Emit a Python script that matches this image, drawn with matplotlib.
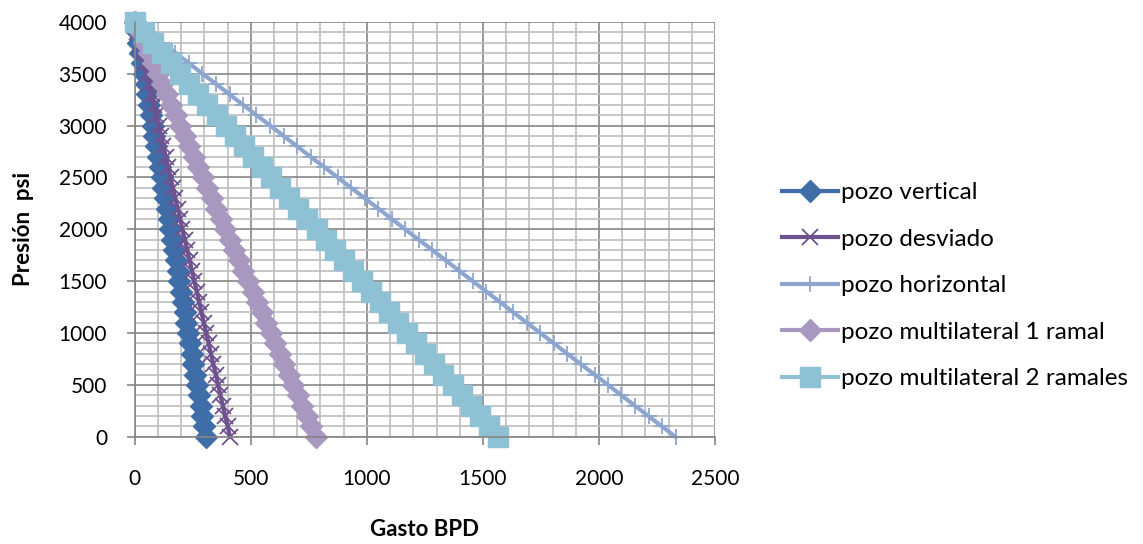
import matplotlib
matplotlib.use("Agg")
import matplotlib.pyplot as plt
from matplotlib.ticker import MultipleLocator

plt.rcParams['font.family'] = ['Lato', 'DejaVu Sans']

# presion (psi)
presion = [4000, 3900, 3800, 3700, 3600, 3500, 3400, 3300, 3200, 3100,
           3000, 2900, 2800, 2700, 2600, 2500, 2400, 2300, 2200, 2100,
           2000, 1900, 1800, 1700, 1600, 1500, 1400, 1300, 1200, 1100,
           1000, 900, 800, 700, 600, 500, 400, 300, 200, 100, 0]

# gasto (BPD) por tipo de pozo
q_vertical = [0, 8, 15, 23, 31, 38, 46, 54, 61, 69, 77, 84, 92, 99, 107, 115,
              122, 130, 138, 145, 153, 161, 168, 176, 184, 191, 199, 207, 214,
              222, 230, 237, 245, 252, 260, 268, 275, 283, 291, 298, 306]
q_desviado = [0, 10, 21, 31, 41, 51, 62, 72, 82, 92, 103, 113, 123, 133, 144,
              154, 164, 174, 185, 195, 205, 215, 226, 236, 246, 256, 267, 277,
              287, 297, 308, 318, 328, 338, 349, 359, 369, 379, 390, 400, 410]
q_horizontal = [0, 58, 117, 175, 233, 291, 350, 408, 466, 524, 583, 641, 699,
                757, 816, 874, 932, 990, 1049, 1107, 1165, 1223, 1282, 1340,
                1398, 1456, 1515, 1573, 1631, 1689, 1748, 1806, 1864, 1922,
                1981, 2039, 2097, 2155, 2214, 2272, 2330]
q_multi1 = [0, 20, 39, 59, 78, 98, 117, 137, 156, 176, 195, 215, 234, 254, 273,
            293, 312, 332, 351, 371, 390, 410, 429, 449, 468, 488, 507, 527,
            546, 566, 585, 605, 624, 644, 663, 683, 702, 722, 741, 761, 780]
q_multi2 = [0, 39, 78, 117, 157, 196, 235, 274, 313, 352, 391, 430, 470, 509,
            548, 587, 626, 665, 704, 743, 783, 822, 861, 900, 939, 978, 1017,
            1056, 1096, 1135, 1174, 1213, 1252, 1291, 1330, 1369, 1409, 1448,
            1487, 1526, 1565]

fig = plt.figure(figsize=(11.43, 5.44), dpi=100)
ax = fig.add_axes([0.118, 0.197, 0.5075, 0.763])

ax.plot(q_vertical, presion, color='#3F6DA7', lw=3, marker='D', ms=11,
        label='pozo vertical')
ax.plot(q_desviado, presion, color='#6E5290', lw=3, marker='x', ms=12, mew=1.3,
        label='pozo desviado')
ax.plot(q_horizontal, presion, color='#8EA6CE', lw=3, marker='+', ms=11, mew=1.3,
        label='pozo horizontal')
ax.plot(q_multi1, presion, color='#A898BF', lw=3, marker='D', ms=11,
        label='pozo multilateral 1 ramal')
ax.plot(q_multi2, presion, color='#8EC1D3', lw=3, marker='s', ms=15,
        label='pozo multilateral 2 ramales')

ax.set_xlim(0, 2500)
ax.set_ylim(0, 4000)
ax.xaxis.set_major_locator(MultipleLocator(500))
ax.yaxis.set_major_locator(MultipleLocator(500))
ax.xaxis.set_minor_locator(MultipleLocator(100))
ax.yaxis.set_minor_locator(MultipleLocator(100))
ax.grid(which='major', color='#868686', lw=1.2)
ax.grid(which='minor', color='#BEBEBE', lw=1.2)
ax.set_axisbelow(True)
for s in ['top', 'right']:
    ax.spines[s].set_visible(False)
for s in ['left', 'bottom']:
    ax.spines[s].set_color('#868686')
    ax.spines[s].set_linewidth(1.2)
ax.tick_params(which='major', length=6, color='#868686', labelsize=15,
               width=1.2)
ax.tick_params(axis='x', pad=17)
ax.tick_params(axis='y', pad=14)
ax.tick_params(which='minor', length=0)
for ln in ax.lines:
    ln.set_clip_on(False)

ax.set_xlabel('Gasto BPD', fontsize=16, fontweight='bold', labelpad=22)
ax.set_ylabel('Presión  psi', fontsize=16, fontweight='bold', labelpad=18)

ax.legend(loc='center left', bbox_to_anchor=(1.1155, 0.364), frameon=False,
          fontsize=17.5, handlelength=2.3, numpoints=1, labelspacing=1.05,
          handletextpad=0.15, borderpad=0, borderaxespad=0)

fig.savefig('out.png', dpi=100)
